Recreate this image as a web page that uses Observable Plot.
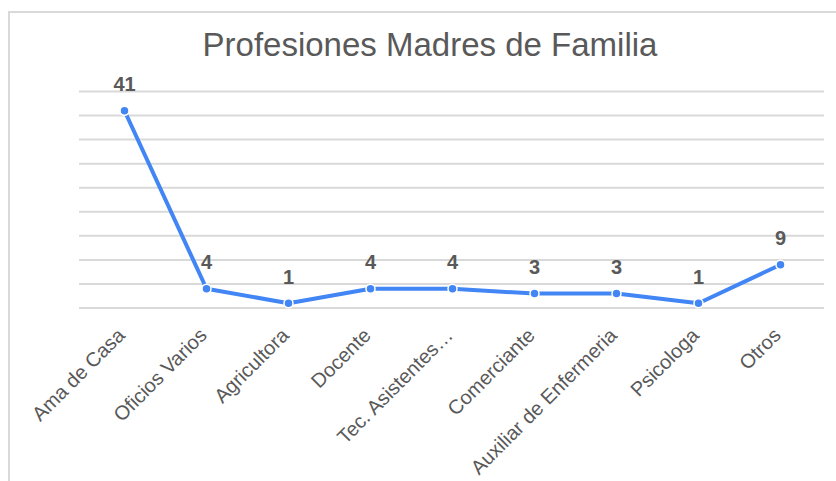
<!DOCTYPE html>
<html>
<head>
<meta charset="utf-8">
<script src="https://cdn.jsdelivr.net/npm/d3@7"></script>
<script src="https://cdn.jsdelivr.net/npm/@observablehq/plot@0.6"></script>
<style>
  html, body { margin: 0; padding: 0; background: #fff; overflow: hidden; }
  body { width: 836px; height: 481px; position: relative; font-family: "Liberation Sans", Arial, sans-serif; }
  #frame { position: absolute; left: 8px; top: 11px; width: 900px; height: 600px; border-left: 2px solid #d9d9d9; border-top: 2px solid #d9d9d9; }
  #title { position: absolute; left: 0; top: 29px; width: 860px; text-align: center; font-size: 33px; line-height: 32px; color: #595959; white-space: nowrap; }
  #chart { position: absolute; left: 0; top: 0; }
</style>
</head>
<body>
<div id="frame"></div>
<div id="title">Profesiones Madres de Familia</div>
<div id="chart"></div>
<script>
const categories = ["Ama de Casa", "Oficios Varios", "Agricultora", "Docente", "Tec. Asistentes…", "Comerciante", "Auxiliar de Enfermeria", "Psicologa", "Otros"];
const values = [41, 4, 1, 4, 4, 3, 3, 1, 9];
const gridTicks = [0, 5, 10, 15, 20, 25, 30, 35, 40, 45];

const data = categories.map((c, i) => ({category: c, value: values[i]}));

const chart = Plot.plot({
  width: 836,
  height: 481,
  marginLeft: 79,
  marginRight: 12,
  marginTop: 91,
  marginBottom: 173.5,
  style: {fontFamily: "'Liberation Sans', Arial, sans-serif", background: "transparent"},
  x: {type: "point", domain: categories, padding: 0.5},
  y: {domain: [0, 45]},
  marks: [
    Plot.gridY(gridTicks, {stroke: "#d9d9d9", strokeOpacity: 1, strokeWidth: 2}),
    Plot.axisX({tickRotate: -45, tickSize: 0, tickPadding: 24, dx: -3, fontSize: 20, color: "#595959", label: null}),
    Plot.axisY({ticks: [], label: null}),
    Plot.line(data, {x: "category", y: "value", stroke: "#4285f4", strokeWidth: 4}),
    Plot.dot(data, {x: "category", y: "value", r: 4.5, fill: "#4285f4", stroke: "white", strokeWidth: 1.5}),
    Plot.text(data, {x: "category", y: "value", text: d => String(d.value), dy: -26, fontSize: 20, fontWeight: "bold", fill: "#595959"})
  ]
});
document.getElementById("chart").appendChild(chart);
</script>
</body>
</html>
